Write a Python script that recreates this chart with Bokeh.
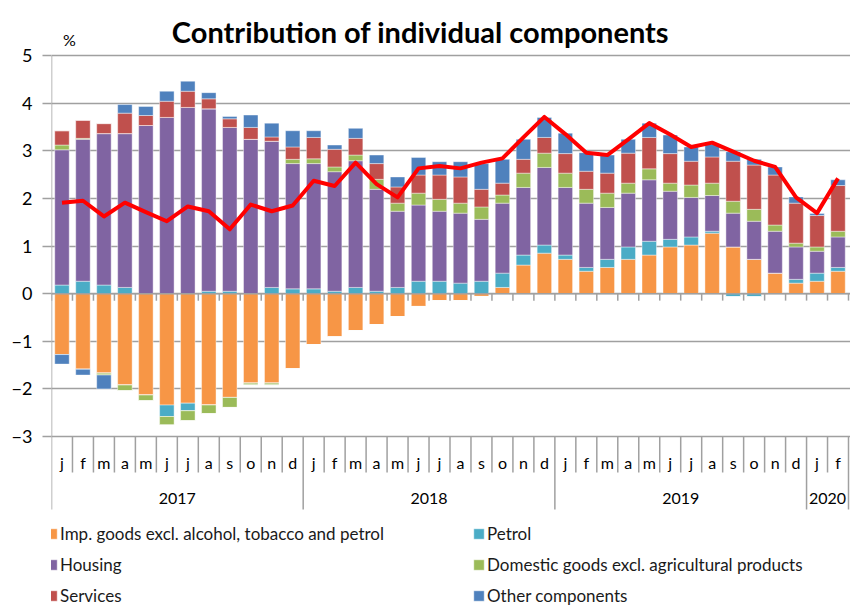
from bokeh.plotting import figure
from bokeh.models import Range1d, FixedTicker, Legend, LegendItem, ColumnDataSource, Span
from bokeh.core.properties import value
from bokeh.embed import file_html
from bokeh.resources import INLINE

# ---------------- data ----------------
months = ["j", "f", "m", "a", "m", "j", "j", "a", "s", "o", "n", "d"] * 3 + ["j", "f"]
years = ["2017", "2018", "2019", "2020"]
year_counts = [12, 12, 12, 2]

series_names = [
    "Imp. goods excl. alcohol, tobacco and petrol",
    "Petrol",
    "Housing",
    "Domestic goods excl. agricultural products",
    "Services",
    "Other components",
]
series_colors = ["#F79646", "#4BACC6", "#8064A2", "#9BBB59", "#C0504D", "#4F81BD"]

imp_goods = [-1.28, -1.59, -1.67, -1.92, -2.13, -2.34, -2.30, -2.34, -2.18, -1.88, -1.88, -1.58,
             -1.07, -0.91, -0.78, -0.65, -0.48, -0.27, -0.15, -0.15, -0.06, 0.13, 0.60, 0.85,
             0.72, 0.47, 0.55, 0.72, 0.81, 0.98, 1.02, 1.27, 0.98, 0.72, 0.43, 0.22,
             0.26, 0.47]
petrol = [0.18, 0.26, 0.18, 0.13, 0.00, -0.24, -0.16, 0.05, 0.05, 0.00, 0.13, 0.10,
          0.10, 0.05, 0.13, 0.05, 0.13, 0.26, 0.26, 0.22, 0.26, 0.30, 0.21, 0.17,
          0.09, 0.08, 0.17, 0.26, 0.29, 0.16, 0.17, 0.04, -0.07, -0.07, 0.00, 0.08,
          0.17, 0.08]
housing = [2.84, 2.98, 3.18, 3.23, 3.53, 3.70, 3.91, 3.83, 3.44, 3.24, 3.07, 2.63,
           2.63, 2.51, 2.66, 2.14, 1.60, 1.60, 1.47, 1.47, 1.30, 1.47, 1.42, 1.63,
           1.42, 1.35, 1.09, 1.13, 1.29, 1.01, 0.83, 0.75, 0.71, 0.80, 0.88, 0.68,
           0.46, 0.64]
domestic = [0.10, 0.02, -0.04, -0.12, -0.12, -0.18, -0.21, -0.18, -0.21, -0.04, -0.04, 0.09,
            0.10, 0.10, 0.12, 0.21, 0.17, 0.25, 0.25, 0.21, 0.26, 0.17, 0.30, 0.30,
            0.30, 0.29, 0.30, 0.21, 0.23, 0.17, 0.26, 0.26, 0.25, 0.25, 0.13, 0.08,
            0.09, 0.12]
services = [0.30, 0.38, 0.21, 0.43, 0.21, 0.34, 0.34, 0.21, 0.18, 0.25, 0.09, 0.26,
            0.45, 0.37, 0.35, 0.33, 0.34, 0.38, 0.51, 0.55, 0.37, 0.25, 0.29, 0.33,
            0.41, 0.38, 0.42, 0.63, 0.66, 0.62, 0.50, 0.55, 0.84, 0.93, 1.05, 0.84,
            0.66, 0.96]
other = [-0.20, -0.12, -0.29, 0.18, 0.19, 0.21, 0.21, 0.13, 0.05, 0.26, 0.29, 0.34,
         0.14, 0.09, 0.21, 0.18, 0.21, 0.37, 0.28, 0.32, 0.54, 0.50, 0.42, 0.42,
         0.43, 0.39, 0.38, 0.29, 0.30, 0.39, 0.30, 0.27, 0.20, 0.12, 0.17, 0.13,
         0.04, 0.12]
cpi = [1.91, 1.95, 1.62, 1.91, 1.71, 1.52, 1.83, 1.73, 1.35, 1.87, 1.73, 1.85,
       2.37, 2.26, 2.75, 2.30, 2.02, 2.63, 2.68, 2.63, 2.75, 2.84, 3.28, 3.71,
       3.35, 2.96, 2.91, 3.24, 3.58, 3.34, 3.08, 3.17, 2.98, 2.79, 2.66, 2.02,
       1.69, 2.42]
y_ticks = [-3, -2, -1, 0, 1, 2, 3, 4, 5]

series_values = [imp_goods, petrol, housing, domestic, services, other]

# ---------------- layout helpers ----------------
FONT = "Lato"
W, H = 850, 606
LEFT = 51
n = len(months)
X_END = n * (W - LEFT) / (848 - LEFT)
Y5_PX, YM3_PX = 55, 436
PPU = (YM3_PX - Y5_PX) / (y_ticks[-1] - y_ticks[0])
Y_TOP = y_ticks[-1] + Y5_PX / PPU
Y_BOT = y_ticks[0] - (H - YM3_PX) / PPU


def dx(px):
    return (px - LEFT) / (W - LEFT) * X_END


def dy(px):
    return Y_TOP - px / PPU


GRID = "#a0a0a0"

p = figure(width=W, height=H, x_range=Range1d(0, X_END), y_range=Range1d(Y_BOT, Y_TOP),
           output_backend="svg", toolbar_location=None, title=None,
           x_axis_location=None, y_axis_location="left",
           min_border_left=LEFT, min_border_right=0, min_border_top=0, min_border_bottom=0)
p.outline_line_color = None
p.background_fill_color = "white"

# y axis
p.yaxis.ticker = FixedTicker(ticks=y_ticks)
p.yaxis.axis_line_color = None
p.yaxis.major_tick_out = 9
p.yaxis.major_tick_in = 0
p.yaxis.major_tick_line_color = GRID
p.yaxis.major_tick_line_width = 1.5
p.yaxis.minor_tick_line_color = None
p.yaxis.major_label_text_font = FONT
p.yaxis.major_label_text_font_size = "18px"
p.yaxis.major_label_text_color = "black"
p.yaxis.major_label_standoff = 10

p.xgrid.visible = False
p.ygrid.ticker = FixedTicker(ticks=y_ticks)
p.ygrid.grid_line_color = GRID
p.ygrid.grid_line_width = 1.5

# ---------------- bars ----------------
centers = [i + 0.5 for i in range(n)]
data = {"x": centers, "cpi": cpi}
pos_cols, neg_cols = [], []
for k, vals in enumerate(series_values):
    data[f"p{k}"] = [max(v, 0) for v in vals]
    data[f"n{k}"] = [min(v, 0) for v in vals]
    pos_cols.append(f"p{k}")
    neg_cols.append(f"n{k}")
src = ColumnDataSource(data)

r_pos = p.vbar_stack(pos_cols, x="x", width=0.69, color=series_colors, source=src,
                     line_color="white", line_width=0.6, line_alpha=0.7)
r_neg = p.vbar_stack(neg_cols, x="x", width=0.69, color=series_colors, source=src,
                     line_color="white", line_width=0.6, line_alpha=0.7)

# zero axis with category ticks
p.add_layout(Span(location=0, dimension="width", line_color=GRID, line_width=1.5))
bounds = list(range(n + 1))
p.segment(x0=bounds, y0=[0] * len(bounds), x1=bounds, y1=[-7 / PPU] * len(bounds),
          line_color=GRID, line_width=1.5)

# CPI line
p.line("x", "cpi", source=src, line_color="#FF0000", line_width=4, line_join="round")

# ---------------- category axis box ----------------
year_bounds = [0]
for c in year_counts:
    year_bounds.append(year_bounds[-1] + c)
month_bounds = [b for b in bounds if b not in year_bounds]
y_min = y_ticks[0]
p.segment(x0=month_bounds, y0=[y_min] * len(month_bounds), x1=month_bounds,
          y1=[dy(472)] * len(month_bounds), line_color=GRID, line_width=1.5)
p.segment(x0=year_bounds, y0=[y_min] * len(year_bounds), x1=year_bounds,
          y1=[dy(509)] * len(year_bounds), line_color=GRID, line_width=1.5)
# left axis line
p.segment(x0=[0], y0=[y_ticks[-1]], x1=[0], y1=[y_min], line_color=GRID, line_width=1.5)

p.text(x=centers, y=[dy(462)] * n, text=months, text_align="center", text_baseline="middle",
       text_font=value(FONT), text_font_size="16px", text_color="black")
year_mid = [(year_bounds[i] + year_bounds[i + 1]) / 2 for i in range(len(years))]
p.text(x=year_mid, y=[dy(498)] * len(years), text=years, text_align="center",
       text_baseline="middle", text_font=value(FONT), text_font_size="16px", text_color="black")

# title and unit
p.text(x=[dx(420)], y=[dy(31)], text=["Contribution of individual components"],
       text_align="center", text_baseline="alphabetic", text_font=value(FONT),
       text_font_size="29px", text_font_style="bold", text_color="black")
p.text(x=[dx(69)], y=[dy(39)], text=["%"], text_align="center", text_baseline="middle",
       text_font=value(FONT), text_font_size="16px", text_color="black")

# ---------------- legend ----------------
def make_legend(idx, loc):
    items = [LegendItem(label=series_names[i], renderers=[r_pos[i]]) for i in idx]
    return Legend(items=items, location=loc, orientation="vertical", glyph_width=13,
                  glyph_height=13, label_standoff=2, spacing=10, padding=0, margin=0,
                  label_height=20, border_line_color=None, background_fill_alpha=0,
                  label_text_font=FONT, label_text_font_size="17px",
                  label_text_color="#1a1a1a")


p.add_layout(make_legend([0, 2, 4], (-6, 0)))
p.add_layout(make_legend([1, 3, 5], (421, 0)))

open("out.html", "w").write(file_html(p, INLINE))
